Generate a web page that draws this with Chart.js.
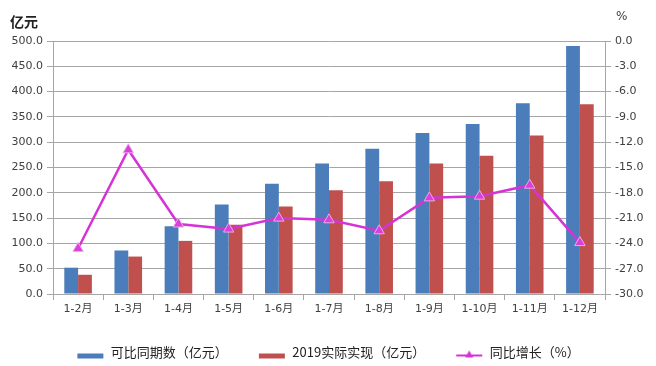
<!DOCTYPE html>
<html>
<head>
<meta charset="utf-8">
<script src="https://cdn.jsdelivr.net/npm/chart.js@4/dist/chart.umd.min.js"></script>
<style>
  html, body { margin: 0; padding: 0; background: #fff; }
  #wrap { width: 656px; height: 366px; }
</style>
</head>
<body>
<div id="wrap"><canvas id="chart" width="656" height="366"></canvas></div>
<script>
const categories = ['1-2月', '1-3月', '1-4月', '1-5月', '1-6月', '1-7月', '1-8月', '1-9月', '1-10月', '1-11月', '1-12月'];
const comparableValues = [52, 86, 134, 177, 218, 258, 287, 318, 336, 377, 490];
const actualValues = [38, 74, 105, 137, 173, 205, 223, 258, 273, 313, 375];
const growthValues = [-24.6, -12.9, -21.7, -22.3, -21.0, -21.2, -22.5, -18.6, -18.4, -17.1, -23.9];
const seriesNames = ['可比同期数（亿元）', '2019实际实现（亿元）', '同比增长（%）'];

const blue = '#4A7DBA';
const red = '#C0504D';
const magenta = '#D633D6';
const tickFont = { family: 'DejaVu Sans, Noto Sans CJK SC', size: 11 };
const tickColor = '#404040';
const gridColor = '#A6A6A6';

// little legend swatches drawn as images
function makeSwatch(kind, color) {
  const c = document.createElement('canvas');
  c.width = 28; c.height = 14;
  const g = c.getContext('2d');
  if (kind === 'bar') {
    g.fillStyle = color;
    g.fillRect(1, 8, 26, 5);
  } else {
    g.strokeStyle = color;
    g.lineWidth = 2;
    g.beginPath(); g.moveTo(1, 10); g.lineTo(27, 10); g.stroke();
    g.fillStyle = color;
    g.beginPath(); g.moveTo(14, 5); g.lineTo(18, 12); g.lineTo(10, 12); g.closePath(); g.fill();
  }
  return c;
}

const unitLabels = {
  id: 'unitLabels',
  afterDraw(chart) {
    const c = chart.ctx;
    c.save();
    c.fillStyle = '#222';
    c.font = 'bold 14px "Noto Sans CJK SC"';
    c.textBaseline = 'middle';
    c.fillText('亿元', 10, 22);
    c.font = '12px "DejaVu Sans"';
    c.fillStyle = '#404040';
    c.fillText('%', 616, 17);
    c.restore();
  }
};

const ctx = document.getElementById('chart').getContext('2d');
new Chart(ctx, {
  type: 'bar',
  data: {
    labels: categories,
    datasets: [
      {
        label: seriesNames[0],
        data: comparableValues,
        backgroundColor: blue,
        yAxisID: 'y',
        order: 1,
        categoryPercentage: 0.55,
        barPercentage: 1.0,
      },
      {
        label: seriesNames[1],
        data: actualValues,
        backgroundColor: red,
        yAxisID: 'y',
        order: 1,
        categoryPercentage: 0.55,
        barPercentage: 1.0,
      },
      {
        type: 'line',
        label: seriesNames[2],
        data: growthValues,
        borderColor: magenta,
        borderWidth: 2.5,
        pointStyle: 'triangle',
        pointRadius: 6,
        pointBackgroundColor: '#D940D9',
        pointBorderColor: '#EBA8EB',
        pointBorderWidth: 1,
        tension: 0,
        yAxisID: 'y1',
        order: 0,
      },
    ],
  },
  options: {
    responsive: false,
    animation: false,
    layout: { padding: { top: 41, left: 0, right: 0, bottom: -3 } },
    scales: {
      x: {
        offset: true,
        grid: { display: true, offset: true, drawOnChartArea: false, color: gridColor, tickLength: 6 },
        border: { color: gridColor },
        ticks: { color: tickColor, font: tickFont, maxRotation: 0, autoSkip: false, padding: 3 },
        afterFit(scale) { scale.height = 22; },
      },
      y: {
        position: 'left',
        min: 0,
        max: 500,
        ticks: {
          stepSize: 50,
          color: tickColor,
          font: tickFont,
          padding: 4,
          callback: (v) => v.toFixed(1),
        },
        grid: { color: gridColor, tickLength: 6 },
        border: { color: gridColor },
        afterFit(scale) { scale.width = 53; },
      },
      y1: {
        position: 'right',
        min: -30,
        max: 0,
        ticks: {
          stepSize: 3,
          color: tickColor,
          font: tickFont,
          padding: 4,
          callback: (v) => v.toFixed(1),
        },
        grid: { drawOnChartArea: false, color: gridColor, tickLength: 6 },
        border: { color: gridColor },
        afterFit(scale) { scale.width = 51; },
      },
    },
    plugins: {
      legend: {
        position: 'bottom',
        labels: {
          usePointStyle: true,
          pointStyleWidth: 28,
          padding: 30,
          color: '#222',
          font: { family: 'Noto Sans CJK SC', size: 13 },
          generateLabels(chart) {
            return chart.data.datasets.map((ds, i) => ({
              text: ds.label,
              datasetIndex: i,
              pointStyle: makeSwatch(i === 2 ? 'line' : 'bar', i === 0 ? blue : i === 1 ? red : magenta),
              fillStyle: 'transparent',
              strokeStyle: 'transparent',
              lineWidth: 0,
              hidden: false,
              fontColor: '#222',
            }));
          },
        },
      },
      tooltip: { enabled: false },
    },
  },
  plugins: [unitLabels],
});
</script>
</body>
</html>
